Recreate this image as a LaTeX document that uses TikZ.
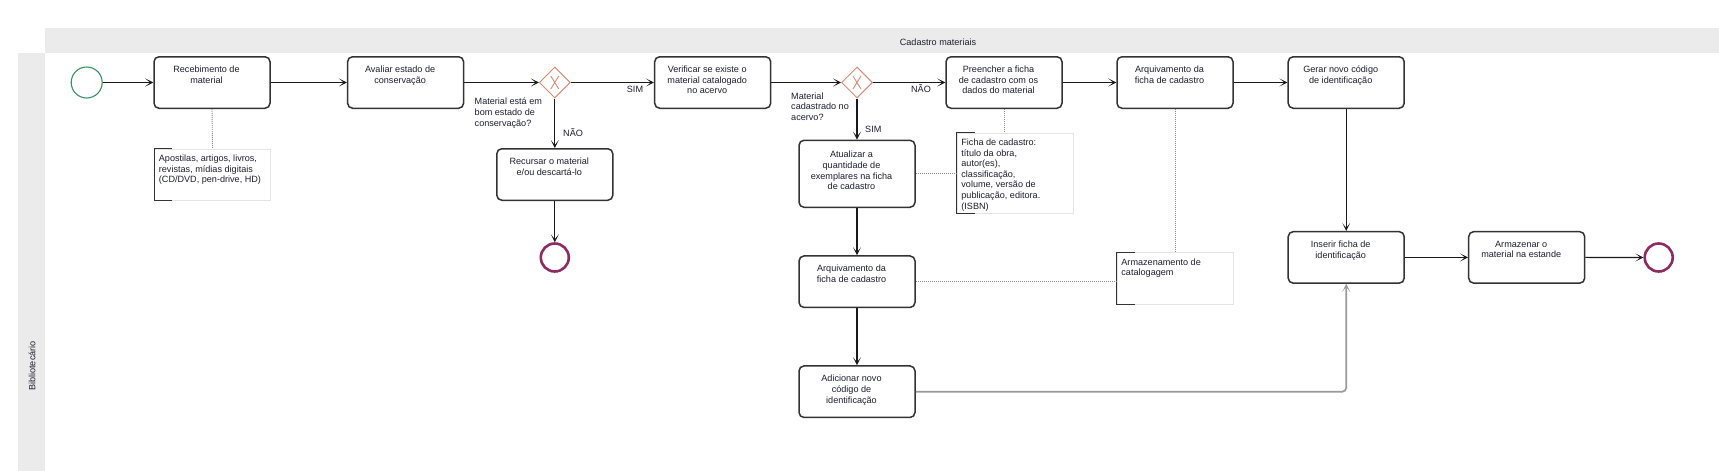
\documentclass[tikz,border=0pt]{standalone}
\usepackage{fontspec}
\setmainfont{Liberation Sans}
\usetikzlibrary{arrows.meta,shapes.geometric}
\definecolor{lanegrey}{HTML}{EBEBEB}
\definecolor{taskline}{HTML}{333333}
\definecolor{txt}{HTML}{1E1E30}
\definecolor{startgreen}{HTML}{3A8F66}
\definecolor{endpurple}{HTML}{8E2C62}
\definecolor{gwcol}{HTML}{D98A74}
\definecolor{dotgrey}{HTML}{8A8A8A}
\definecolor{annborder}{HTML}{E4E4E4}
\definecolor{flowgrey}{HTML}{9A9A9A}
\definecolor{arrcol}{HTML}{1A1A1A}
\begin{document}
\begin{tikzpicture}[x=1pt,y=-1pt,
  every node/.style={font=\fontsize{9.1}{10.6}\selectfont, text=txt},
  task/.style={draw=taskline, line width=1.5pt, rounded corners=5pt, fill=white,
    minimum width=116pt, minimum height=51.5pt, inner sep=0pt},
  tlbl/.style={anchor=north, yshift=-10pt, xshift=-5.5pt, align=center, inner sep=0pt},
  annot/.style={draw=annborder, line width=0.6pt, fill=white, minimum width=116pt, inner sep=0pt},
  albl/.style={anchor=north west, xshift=4.5pt, yshift=-6pt, align=left, inner sep=0pt},
  bracket/.style={draw=taskline, line width=1.1pt},
  gateway/.style={diamond, aspect=1, draw=gwcol, line width=1pt, fill=white,
    minimum size=31pt, inner sep=0pt,
    path picture={\draw[gwcol, line width=0.9pt]
      ([shift={(-4pt,-6.5pt)}]path picture bounding box.center) -- ([shift={(4pt,6.5pt)}]path picture bounding box.center)
      ([shift={(-4pt,6.5pt)}]path picture bounding box.center) -- ([shift={(4pt,-6.5pt)}]path picture bounding box.center);}},
  startev/.style={circle, draw=startgreen, line width=1.1pt, minimum size=31pt, inner sep=0pt},
  endev/.style={circle, draw=endpurple, line width=2.6pt, minimum size=28pt, inner sep=0pt},
  flow/.style={draw=arrcol, line width=1.1pt, -{Stealth[length=8pt,width=8pt,inset=5pt]}},
  greyflow/.style={draw=flowgrey, line width=1.7pt, rounded corners=4pt, -{Stealth[length=8pt,width=8pt,inset=5pt]}},
  assoc/.style={draw=dotgrey, line width=0.9pt, dash pattern=on 1pt off 1pt},
  glbl/.style={align=left, inner sep=0pt},
  plain/.style={inner sep=0pt}
]
\useasboundingbox (0,0) rectangle (1719,471);
\fill[white] (0,0) rectangle (1719,471);
% pool header and lane band
\fill[lanegrey] (44.8,28.3) rectangle (1719,53.3);
\fill[lanegrey] (18,53.3) rectangle (44.8,471);
\node[plain] (title) at (938,42.3) {Cadastro materiais};
\node[plain, rotate=90] (lane) at (32,366) {Bibliotecário};

% events
\node[startev] (start) at (86.7,82.5) {};
\node[endev] (end1) at (554.8,257.5) {};
\node[endev] (end2) at (1658.7,257.5) {};

% tasks
\node[task, label={[tlbl]north:{Recebimento de\\material}}] (t1) at (212,82.5) {};
\node[task, label={[tlbl]north:{Avaliar estado de\\conservação}}] (t2) at (405.6,82.5) {};
\node[gateway] (g1) at (554.8,82.5) {};
\node[task, label={[tlbl]north:{Verificar se existe o\\material catalogado\\no acervo}}] (t3) at (712.7,82.5) {};
\node[gateway] (g2) at (857,82.5) {};
\node[task, label={[tlbl]north:{Preencher a ficha\\de cadastro com os\\dados do material}}] (t4) at (1004,82.5) {};
\node[task, label={[tlbl]north:{Arquivamento da\\ficha de cadastro}}] (t5) at (1175,82.5) {};
\node[task, label={[tlbl]north:{Gerar novo código\\de identificação}}] (t6) at (1346.2,82.5) {};
\node[task, label={[tlbl]north:{Recursar o material\\e/ou descartá-lo}}] (t7) at (554.8,174.5) {};
\node[task, minimum height=67pt, label={[tlbl, yshift=-1.5pt]north:{Atualizar a\\quantidade de\\exemplares na ficha\\de cadastro}}] (t8) at (857,173.8) {};
\node[task, label={[tlbl]north:{Arquivamento da\\ficha de cadastro}}] (t9) at (857,281.7) {};
\node[task, label={[tlbl]north:{Adicionar novo\\código de\\identificação}}] (t10) at (857,391.7) {};
\node[task, label={[tlbl]north:{Inserir ficha de\\identificação}}] (t11) at (1346.2,257.4) {};
\node[task, label={[tlbl]north:{Armazenar o\\material na estande}}] (t12) at (1526.7,257.4) {};

% annotations
\node[annot, minimum height=51pt, label={[albl]north west:{Apostilas, artigos, livros,\\revistas, mídias digitais\\(CD/DVD, pen-drive, HD)}}] (a1) at (212.5,174.5) {};
\node[annot, minimum height=80pt, label={[albl]north west:{Ficha de cadastro:\\título da obra,\\autor(es),\\classificação,\\volume, versão de\\publicação, editora.\\(ISBN)}}] (a2) at (1015,173) {};
\node[annot, minimum height=51.3pt, label={[albl]north west:{Armazenamento de\\catalogagem}}] (a3) at (1175,278.3) {};
\foreach \a in {a1,a2,a3}{
  \draw[bracket] ([xshift=18pt]\a.north west) -- (\a.north west) -- (\a.south west) -- ([xshift=18pt]\a.south west);
}

% gateway labels
\node[glbl, anchor=north west] (q1) at (474.5,98) {Material está em\\bom estado de\\conservação?};
\node[glbl, anchor=north west] (q2) at (791,92.5) {Material\\cadastrado no\\acervo?};
\node[plain, anchor=west] (n1) at (563,133) {NÃO};
\node[plain] (s1) at (635,89) {SIM};
\node[plain, anchor=west] (s2) at (865,129.5) {SIM};
\node[plain] (n2) at (921,88.5) {NÃO};

% sequence flows
\draw[flow] (start) -- (t1);
\draw[flow] (t1) -- (t2);
\draw[flow] (t2) -- (g1);
\draw[flow] (g1) -- (t3);
\draw[flow] (g1) -- (t7);
\draw[flow] (t7) -- (end1);
\draw[flow] (t3) -- (g2);
\draw[flow] (g2) -- (t4);
\draw[flow] (g2) -- (t8);
\draw[flow] (t4) -- (t5);
\draw[flow] (t5) -- (t6);
\draw[flow] (t6) -- (t11);
\draw[flow] (t8) -- (t9);
\draw[flow] (t9) -- (t10);
\draw[flow] (t11) -- (t12);
\draw[flow] (t12) -- (end2);
\draw[greyflow] (t10.east) -| (t11.south);

% associations
\draw[assoc] (t1.south) -- (a1.north);
\draw[assoc] (t4.south) -- (t4.south |- a2.north);
\draw[assoc] (t5.south) -- (a3.north);
\draw[assoc] (t8.east) -- (t8.east -| a2.west);
\draw[assoc] (t9.east) -- (t9.east -| a3.west);
\end{tikzpicture}
\end{document}
